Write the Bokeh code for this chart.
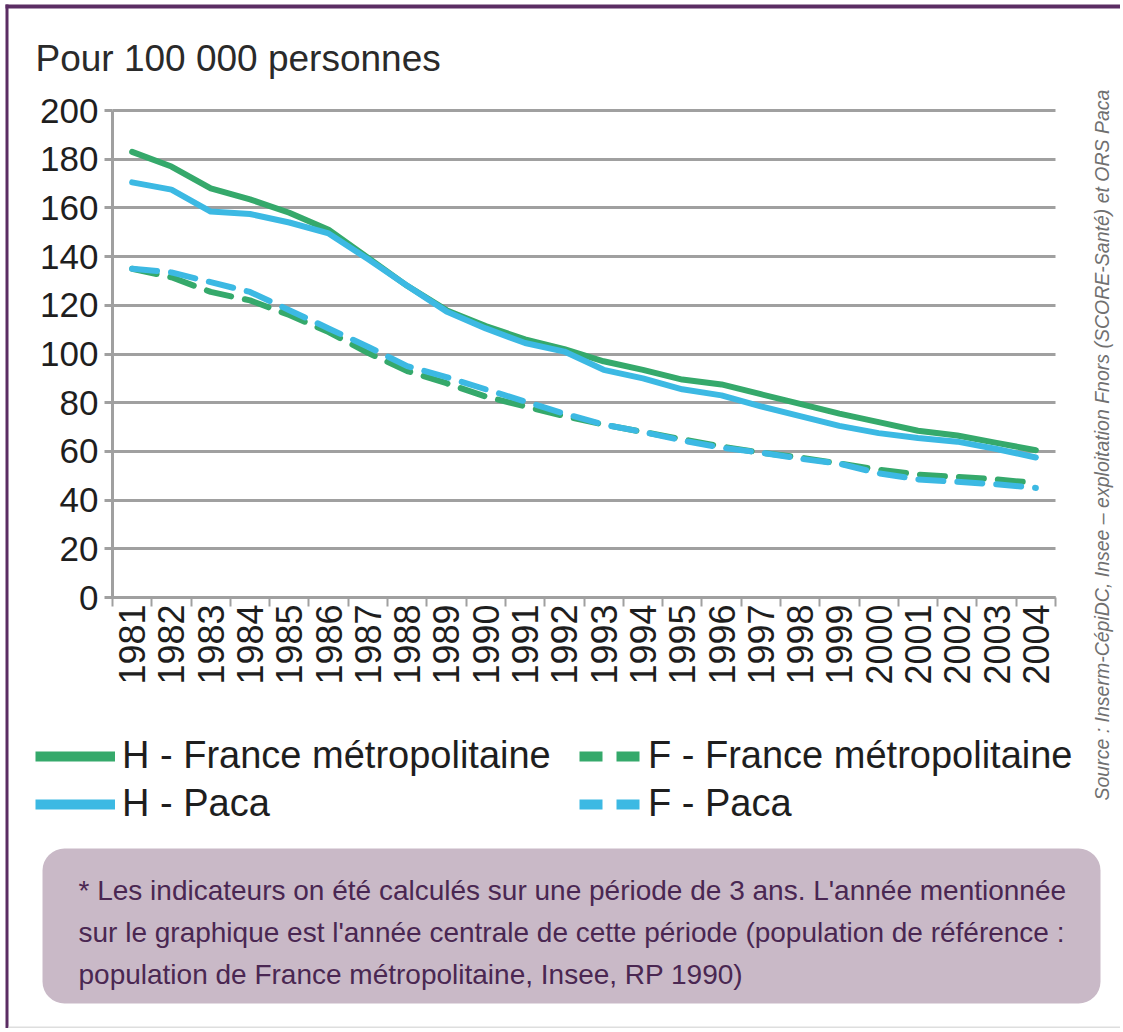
from math import pi
from bokeh.plotting import figure
from bokeh.models import (Range1d, FixedTicker, Label, Legend, LegendItem,
                          BoxAnnotation, ColumnDataSource, LinearAxis, Grid)
from bokeh.embed import file_html
from bokeh.resources import INLINE

# ---------------- data ----------------
years = [str(y) for y in range(1981, 2005)]
h_france = [183, 177, 168, 163.5, 158, 151, 139.5, 128, 118, 111.5, 106, 102,
            97, 93.5, 89.5, 87.5, 83.5, 79.5, 75.5, 72, 68.5, 66.5, 63.5, 60.5]
h_paca = [170.5, 167.5, 158.5, 157.5, 154, 149.5, 139, 128, 117.5, 110.5, 104.5, 101,
          93.5, 90, 85.5, 83, 78.5, 74.5, 70.5, 67.5, 65.5, 64, 61, 57.5]
f_france = [135, 131.5, 125.5, 122, 116, 109, 100.5, 93, 88, 82.5, 78.5, 74.5,
            71, 68, 65, 62, 59.5, 57.5, 55, 52.5, 50.5, 49.5, 48.5, 47]
f_paca = [135, 133.5, 129.5, 125.5, 118, 110.5, 103, 95, 90.5, 85.5, 80.5, 75.5,
          71, 68, 64.5, 61.5, 59.5, 57, 55, 51, 48.5, 47.5, 46.5, 45]
y_ticks = list(range(0, 201, 20))
y_max = 200

title_text = "Pour 100 000 personnes"
legend_labels = ["H - France métropolitaine", "H - Paca",
                 "F - France métropolitaine", "F - Paca"]
note_lines = [
    "* Les indicateurs on été calculés sur une période de 3 ans. L'année mentionnée",
    "sur le graphique est l'année centrale de cette période (population de référence :",
    "population de France métropolitaine, Insee, RP 1990)",
]
source_text = ("Source : Inserm-CépiDC, Insee – exploitation Fnors "
               "(SCORE-Santé) et ORS Paca")

# ---------------- style / layout ----------------
GREEN = "#35a96b"
BLUE = "#3cb9e3"
GRID = "#a0a0a0"
FONT = "Liberation Sans"
TXT = "#1e1e1e"

W, H = 1120, 1028
PX_L, PX_R = 112, 1055      # chart area, page pixels
PX_T, PX_B = 110, 597
n = len(years)
kx = (PX_R - PX_L) / n
ky = (PX_B - PX_T) / y_max


def sy(Y):
    """page pixel row -> screen units measured from the canvas bottom"""
    return H - Y


p = figure(width=W, height=H, output_backend="svg", toolbar_location=None,
           x_range=Range1d(-PX_L / kx, (W - PX_L) / kx),
           y_range=Range1d(-(H - PX_B) / ky, PX_B / ky),
           x_axis_type=None, y_axis_type=None, min_border=0)
p.outline_line_color = None
p.background_fill_color = "white"
p.border_fill_color = "white"

# grid
ygrid = Grid(dimension=1, ticker=FixedTicker(ticks=y_ticks), bounds=(0, y_max),
             grid_line_color=GRID, grid_line_width=3)
if "cross_bounds" in Grid.properties():
    ygrid.cross_bounds = (0, n)
    p.add_layout(ygrid)
else:
    p.segment(x0=[0] * len(y_ticks), x1=[n] * len(y_ticks), y0=y_ticks, y1=y_ticks,
              line_color=GRID, line_width=3)

xpos = [i + 0.5 for i in range(n)]
src = ColumnDataSource(dict(x=xpos, hf=h_france, hp=h_paca, ff=f_france, fp=f_paca))

DASH = "25 14"
p.line("x", "ff", source=src, line_color=GREEN, line_width=6, line_dash=DASH,
       line_cap="round", line_join="round")
p.line("x", "hf", source=src, line_color=GREEN, line_width=6,
       line_cap="round", line_join="round")
p.line("x", "fp", source=src, line_color=BLUE, line_width=6, line_dash=DASH,
       line_cap="round", line_join="round")
p.line("x", "hp", source=src, line_color=BLUE, line_width=6,
       line_cap="round", line_join="round")

# ---------------- axes ----------------
xa = LinearAxis(fixed_location=0, bounds=(0, n),
                ticker=FixedTicker(ticks=xpos, minor_ticks=list(range(n + 1))),
                major_label_overrides={x: y for x, y in zip(xpos, years)})
xa.major_tick_out = 0
xa.major_tick_in = 0
xa.minor_tick_out = 9
xa.minor_tick_in = 0
xa.minor_tick_line_color = GRID
xa.minor_tick_line_width = 2
xa.axis_line_color = GRID
xa.axis_line_width = 3
xa.major_label_orientation = pi / 2
xa.major_label_text_font = FONT
xa.major_label_text_font_size = "36px"
xa.major_label_text_color = TXT
xa.major_label_standoff = -2
p.add_layout(xa, "below")

ya = LinearAxis(fixed_location=0, bounds=(0, y_max),
                ticker=FixedTicker(ticks=y_ticks, minor_ticks=[]))
ya.major_tick_out = 8
ya.major_tick_in = 0
ya.major_tick_line_color = GRID
ya.major_tick_line_width = 3
ya.minor_tick_line_color = None
ya.axis_line_color = GRID
ya.axis_line_width = 3
ya.major_label_text_font = FONT
ya.major_label_text_font_size = "35px"
ya.major_label_text_color = TXT
ya.major_label_standoff = 6
p.add_layout(ya, "left")

# ---------------- legend (sample renderers, nothing drawn in the chart) ----------------
blank = ColumnDataSource(dict(x=[float("nan")], y=[float("nan")]))
r_hf = p.line("x", "y", source=blank, line_color=GREEN, line_width=10)
r_hp = p.line("x", "y", source=blank, line_color=BLUE, line_width=10)
r_ff = p.line("x", "y", source=blank, line_color=GREEN, line_width=10, line_dash="23 14")
r_fp = p.line("x", "y", source=blank, line_color=BLUE, line_width=10, line_dash="23 14")


def make_legend(items, loc, gw):
    return Legend(items=items, location=loc, orientation="vertical",
                  border_line_color=None, background_fill_alpha=0,
                  padding=0, margin=0, spacing=5, glyph_width=gw,
                  glyph_height=40, label_height=40, label_standoff=7,
                  label_text_font=FONT, label_text_font_size="38px",
                  label_text_color=TXT)


p.add_layout(make_legend([LegendItem(label=legend_labels[0], renderers=[r_hf], index=0),
                          LegendItem(label=legend_labels[1], renderers=[r_hp], index=0)],
                         (35, sy(825)), 80))
p.add_layout(make_legend([LegendItem(label=legend_labels[2], renderers=[r_ff], index=0),
                          LegendItem(label=legend_labels[3], renderers=[r_fp], index=0)],
                         (579, sy(825)), 62))

# ---------------- texts & decorations ----------------
p.add_layout(Label(x=35, y=sy(58), x_units="screen", y_units="screen",
                   text=title_text, text_font=FONT, text_font_size="37px",
                   text_color="#2a2a2a", text_baseline="alphabetic"))

p.add_layout(BoxAnnotation(left=42, right=1100, bottom=sy(1003), top=sy(848),
                           left_units="screen", right_units="screen",
                           bottom_units="screen", top_units="screen",
                           fill_color="#c9b9c7", fill_alpha=1,
                           line_color=None, border_radius=22))

for i, line in enumerate(note_lines):
    p.add_layout(Label(x=78, y=sy(890 + 42 * i), x_units="screen", y_units="screen",
                       text=line, text_font=FONT, text_font_size="28px",
                       text_color="#4a2752", text_baseline="alphabetic"))

p.add_layout(Label(x=1101, y=sy(800), x_units="screen", y_units="screen",
                   text=source_text, angle=pi / 2, text_font=FONT,
                   text_font_style="italic", text_font_size="19.5px",
                   text_color="#707070", text_align="left",
                   text_baseline="middle"))

# page frame lines
p.add_layout(BoxAnnotation(left=5, right=W, bottom=sy(8), top=sy(4),
                           left_units="screen", right_units="screen",
                           bottom_units="screen", top_units="screen",
                           fill_color="#5b2d63", fill_alpha=1, line_color=None))
p.add_layout(BoxAnnotation(left=5, right=8, bottom=0, top=sy(4),
                           left_units="screen", right_units="screen",
                           bottom_units="screen", top_units="screen",
                           fill_color="#5b2d63", fill_alpha=1, line_color=None))
p.add_layout(BoxAnnotation(left=8, right=W, bottom=0, top=2,
                           left_units="screen", right_units="screen",
                           bottom_units="screen", top_units="screen",
                           fill_color="#dedede", fill_alpha=1, line_color=None))

open("out.html", "w").write(file_html(p, INLINE))
